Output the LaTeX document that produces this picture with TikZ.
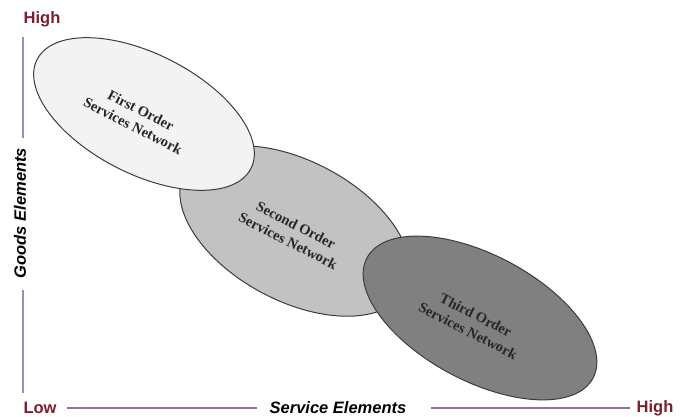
\documentclass[tikz,border=0pt]{standalone}
\usepackage{fontspec}
\setmainfont{Liberation Serif}
\setsansfont{Liberation Sans}
\usetikzlibrary{shapes.geometric}
\definecolor{axred}{HTML}{7A1F2E}
\definecolor{axline}{HTML}{9C8CC4}
\definecolor{hline}{HTML}{8F7398}
\definecolor{edge}{HTML}{3C3C3C}
\definecolor{fillA}{HTML}{F3F3F3}
\definecolor{fillB}{HTML}{C2C2C2}
\definecolor{fillC}{HTML}{808080}
\tikzset{
  net/.style={ellipse, draw=edge, line width=1pt, inner sep=0pt},
  netlabel/.style={font=\bfseries\fontsize{14.5}{17.5}\selectfont, align=center, text=black!85, inner sep=1pt},
  endlabel/.style={font=\sffamily\bfseries\fontsize{16.5}{18}\selectfont, text=axred, inner sep=0pt},
  axlabel/.style={font=\sffamily\bfseries\itshape\fontsize{16.5}{18}\selectfont, text=black, inner sep=0pt}
}
\begin{document}
\begin{tikzpicture}[x=1pt,y=1pt]
\useasboundingbox (0,0) rectangle (686,416);
% ellipses
\node[net, fill=fillB, minimum width=250pt, minimum height=140pt, rotate=-28] (e2) at (295,185) {};
\node[net, fill=fillA, minimum width=240pt, minimum height=120pt, rotate=-27] (e1) at (144,302) {};
\node[net, fill=fillC, minimum width=256pt, minimum height=126pt, rotate=-28] (e3) at (480,98) {};
% labels
\node[netlabel, rotate=-27] (l1) at (137,298) {First Order\\Services Network};
\node[netlabel, rotate=-27] (l2) at (292,183) {Second Order\\Services Network};
\node[netlabel, rotate=-27] (l3) at (472,93) {Third Order\\Services Network};
% axes
\node[endlabel] (high1) at (42,397) {High};
\node[endlabel] (low) at (40,8) {Low};
\node[endlabel] (high2) at (655,8) {High};
\node[axlabel, rotate=90] (goods) at (20,203) {Goods Elements};
\node[axlabel] (service) at (338,8) {Service Elements};
\coordinate (vtop) at (23,379);
\coordinate (vbot) at (23,23);
\draw[axline, line width=1.2pt] (vtop) -- ([yshift=10pt]goods.east -| vtop);
\draw[axline, line width=1.2pt] ([yshift=-12pt]goods.west -| vtop) -- (vbot);
\draw[hline, line width=1.1pt] ([xshift=10pt]low.east) -- ([xshift=-12pt]service.west);
\draw[hline, line width=1.1pt] ([xshift=24pt]service.east) -- ([xshift=-6pt]high2.west);
\end{tikzpicture}
\end{document}
